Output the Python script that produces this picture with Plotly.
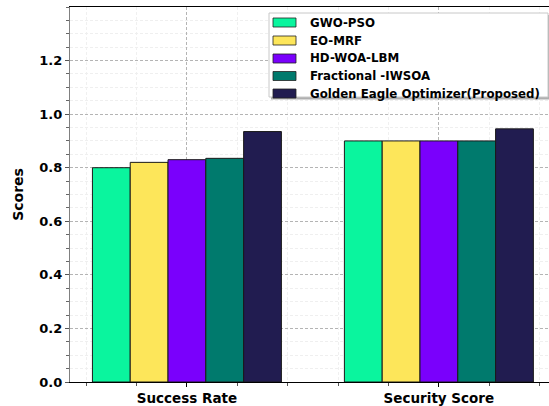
import plotly.graph_objects as go

categories = ["Success Rate", "Security Score"]
methods = ["GWO-PSO", "EO-MRF", "HD-WOA-LBM", "Fractional -IWSOA",
           "Golden Eagle Optimizer(Proposed)"]
success_rate = [0.80, 0.82, 0.83, 0.835, 0.935]
security_score = [0.90, 0.90, 0.90, 0.90, 0.945]
colors = ["#0AF59E", "#FDE65A", "#7A00FC", "#007A6D", "#211C50"]

W, H = 549, 406
ML, MR, MT, MB = 70, 0, 7, 24

FONT = "DejaVu Sans"
BAR_W = 0.15

fig = go.Figure()
for i, name in enumerate(methods):
    fig.add_trace(go.Bar(
        x=[0, 1],
        y=[success_rate[i], security_score[i]],
        name=name,
        width=BAR_W,
        offset=-2.5 * BAR_W + i * BAR_W,
        marker=dict(color=colors[i], line=dict(color="#1a1a1a", width=1)),
        showlegend=False,
    ))


# pixel -> paper coordinate helpers for the legend box
def px_x(v):
    return (v - ML) / (W - ML - MR)


def px_y(v):
    return (H - MB - v) / (H - MT - MB)


def paper_rect(x0, y0, x1, y1, **kw):
    fig.add_shape(type="rect", xref="paper", yref="paper",
                  x0=px_x(x0), x1=px_x(x1), y0=px_y(y1), y1=px_y(y0),
                  layer="above", **kw)


# legend: shadow, frame, swatches and labels
LX0, LY0, LX1, LY1 = 269, 13, 548, 97
paper_rect(LX0 + 2, LY0 + 2, LX1 + 2, LY1 + 2.5,
           fillcolor="rgba(110,110,110,0.55)", line=dict(width=0))
paper_rect(LX0, LY0, LX1, LY1, fillcolor="white",
           line=dict(color="#c8c8c8", width=1))
row_y = [22.5, 40.5, 58.5, 76.0, 93.5]
for name, col, cy in zip(methods, colors, row_y):
    paper_rect(273, cy - 4.5, 296, cy + 4.5, fillcolor=col,
               line=dict(color="#222", width=0.8))
    fig.add_annotation(xref="paper", yref="paper", x=px_x(308), y=px_y(cy),
                       xanchor="left", yanchor="middle", text=name,
                       showarrow=False,
                       font=dict(family=FONT, size=11.8, color="black",
                                 weight="bold"))

grid_major = "#b4b4b4"
fig.update_layout(
    width=W, height=H,
    margin=dict(l=ML, r=MR, t=MT, b=MB),
    paper_bgcolor="white", plot_bgcolor="white",
    font=dict(family=FONT, color="black", weight="bold"),
    showlegend=False,
    xaxis=dict(
        range=[-0.464, 1.437],
        tickmode="array", tickvals=[0, 1], ticktext=categories,
        tickfont=dict(family=FONT, size=13.5, weight="bold", color="black"),
        ticks="outside", ticklen=4, tickcolor="black",
        showline=True, linecolor="black", linewidth=1.2, mirror=True,
        showgrid=True, gridcolor=grid_major, griddash="3px,2px", gridwidth=1,
        minor=dict(dtick=0.2, tick0=0, ticks="outside", ticklen=2.5,
                   tickcolor="#555", showgrid=True, gridcolor="#f0f0f0",
                   gridwidth=1),
        zeroline=False,
    ),
    yaxis=dict(
        range=[0, 1.4],
        tickmode="array", tickvals=[0, 0.2, 0.4, 0.6, 0.8, 1.0, 1.2],
        ticktext=["0.0", "0.2", "0.4", "0.6", "0.8", "1.0", "1.2"],
        tickfont=dict(family=FONT, size=13, weight="bold", color="black"),
        ticks="outside", ticklen=4, tickcolor="#555",
        showline=True, linecolor="#808080", linewidth=1.2,
        showgrid=True, gridcolor=grid_major, griddash="3px,2px", gridwidth=1,
        minor=dict(dtick=0.05, tick0=0, ticks="outside", ticklen=2.5,
                   tickcolor="#666", showgrid=True, gridcolor="#efefef",
                   gridwidth=1),
        zeroline=False,
        title=dict(text="Scores", standoff=12,
                   font=dict(family=FONT, size=14, weight="bold", color="black")),
    ),
)

fig.write_html("out.html")
